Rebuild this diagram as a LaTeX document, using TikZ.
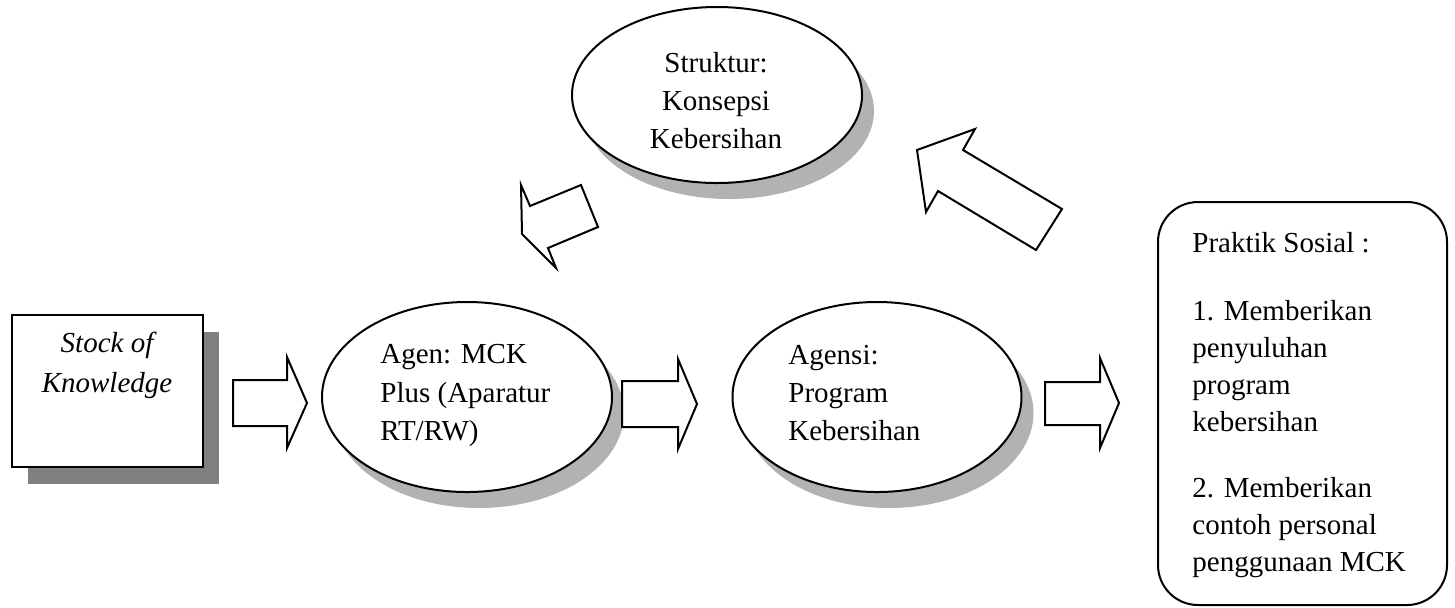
\documentclass[tikz,border=0pt]{standalone}
\usepackage{fontspec}
\setmainfont{Liberation Serif}
\usetikzlibrary{shapes.geometric,shadows}
\definecolor{shadowdark}{gray}{0.5}
\definecolor{shadowlight}{gray}{0.70}
\tikzset{
  txt/.style={font=\fontsize{14.5}{18}\selectfont, inner sep=0pt, anchor=base west},
  ctxt/.style={font=\fontsize{14.5}{18}\selectfont, inner sep=0pt, anchor=base},
  oval/.style={ellipse, draw=black, line width=1pt, fill=white, inner sep=0pt,
    drop shadow={shadow xshift=6pt, shadow yshift=-8pt, fill=shadowlight, opacity=1}},
  blockarrow/.style={draw=black, line width=1pt, fill=white, line join=miter},
}
\begin{document}
\begin{tikzpicture}[x=0.5pt,y=-0.5pt]
\useasboundingbox (0,0) rectangle (1455,607);
% Stock of Knowledge box
\node[draw=black, line width=1pt, fill=white, minimum width=95.5pt, minimum height=76pt, inner sep=0pt,
  drop shadow={shadow xshift=8pt, shadow yshift=-8.5pt, fill=shadowdark, opacity=1}] (stock) at (107.5,391) {};
\node[ctxt, font=\fontsize{14.5}{18}\selectfont\itshape] (stock1) at (107,352) {Stock of};
\node[ctxt, font=\fontsize{14.5}{18}\selectfont\itshape] (stock2) at (107,392) {Knowledge};
% Ellipses
\node[oval, minimum width=145pt, minimum height=88pt] (struktur) at (717,95) {};
\node[ctxt] (s1) at (716,72) {Struktur:};
\node[ctxt] (s2) at (716,110) {Konsepsi};
\node[ctxt] (s3) at (716,148) {Kebersihan};

\node[oval, minimum width=145pt, minimum height=95pt] (agen) at (467,397) {};
\node[txt] (a1) at (380,363) {Agen: MCK};
\node[txt] (a2) at (380,402) {Plus (Aparatur};
\node[txt] (a3) at (380,440) {RT/RW)};

\node[oval, minimum width=144.5pt, minimum height=95pt] (agensi) at (877,397) {};
\node[txt] (g1) at (788,364) {Agensi:};
\node[txt] (g2) at (788,402) {Program};
\node[txt] (g3) at (788,440) {Kebersihan};

% Praktik Sosial box
\node[draw=black, line width=1pt, rounded corners=20pt, minimum width=144.5pt, minimum height=201.5pt, inner sep=0pt] (praktik) at (1302.5,403.5) {};
\node[txt] (p1) at (1192,252) {Praktik Sosial :};
\node[txt] (p2) at (1192,320) {1. Memberikan};
\node[txt] (p3) at (1192,357) {penyuluhan};
\node[txt] (p4) at (1192,394) {program};
\node[txt] (p5) at (1192,431) {kebersihan};
\node[txt] (p6) at (1192,497) {2. Memberikan};
\node[txt] (p7) at (1192,534) {contoh personal};
\node[txt] (p8) at (1192,571) {penggunaan MCK};

% Block arrows
\draw[blockarrow] (233,380) -- (287,380) -- (287,357) -- (307,403) -- (287,448) -- (287,426) -- (233,426) -- cycle;
\draw[blockarrow] (622,381) -- (678,381) -- (678,359) -- (697,404) -- (678,449) -- (678,427) -- (622,427) -- cycle;
\draw[blockarrow] (1045,382) -- (1100,382) -- (1100,358) -- (1119,403) -- (1100,448) -- (1100,425) -- (1045,425) -- cycle;
\draw[blockarrow] (522,234) -- (521,185) -- (530,206) -- (581,185) -- (598,227) -- (548,248) -- (556,268) -- cycle;
\draw[blockarrow] (917,150) -- (975,129) -- (963,150) -- (1062,209) -- (1036,250) -- (938,191) -- (926,212) -- cycle;
\end{tikzpicture}
\end{document}
